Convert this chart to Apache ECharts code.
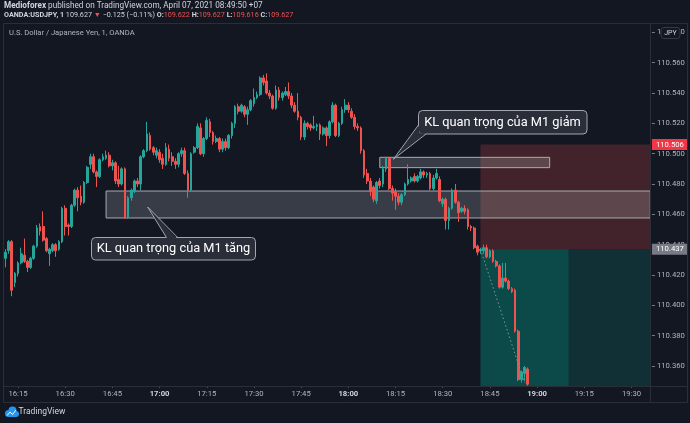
<!DOCTYPE html>
<html><head><meta charset="utf-8">
<script src="https://cdn.jsdelivr.net/npm/echarts@6/dist/echarts.min.js"></script>
<style>html,body{margin:0;padding:0;background:#131722;}#c{width:690px;height:423px;}</style>
</head><body><div id="c"></div>
<script>
// ---- data ----
const startTime = '16:11';
const categoryCount = 206;
const opens = [
110.431,110.436,110.442,110.415,110.421,110.428,110.433,110.429,110.425,110.431,
110.439,110.452,110.452,110.444,110.434,110.436,110.440,110.437,110.442,110.464,
110.453,110.452,110.466,110.476,110.472,110.468,110.481,110.493,110.498,110.488,
110.485,110.496,110.497,110.499,110.492,110.494,110.483,110.480,110.490,110.458,
110.471,110.475,110.482,110.480,110.498,110.502,110.512,110.504,110.499,110.501,
110.497,110.493,110.503,110.498,110.495,110.493,110.500,110.502,110.487,110.476,
110.501,110.504,110.517,110.500,110.510,110.521,110.514,110.508,110.510,110.503,
110.508,110.504,110.512,110.520,110.531,110.528,110.531,110.526,110.529,110.533,
110.537,110.539,110.550,110.548,110.540,110.538,110.530,110.542,110.537,110.539,
110.541,110.538,110.532,110.528,110.524,110.511,110.520,110.519,110.517,110.518,
110.519,110.513,110.517,110.512,110.521,110.532,110.512,110.520,110.529,110.532,
110.528,110.524,110.518,110.517,110.502,110.487,110.482,110.478,110.469,110.482,
110.480,110.490,110.497,110.477,110.475,110.472,110.468,110.473,110.480,110.482,
110.485,110.482,110.484,110.488,110.486,110.487,110.477,110.484,110.483,110.467,
110.470,110.456,110.464,110.476,110.468,110.462,110.464,110.463,110.452,110.451,
110.439,110.436,110.436,110.438,110.432,110.436,110.429,110.426,110.412,110.418,
110.416,110.411,110.410,110.383,110.351,110.355,110.358];
const closes = [
110.435,110.442,110.410,110.421,110.428,110.434,110.429,110.425,110.431,110.439,
110.451,110.449,110.443,110.436,110.437,110.440,110.436,110.442,110.464,110.452,
110.452,110.466,110.476,110.471,110.468,110.481,110.491,110.498,110.488,110.485,
110.496,110.498,110.499,110.492,110.494,110.482,110.480,110.490,110.458,110.471,
110.476,110.482,110.480,110.498,110.502,110.513,110.503,110.501,110.502,110.496,
110.493,110.504,110.497,110.495,110.493,110.500,110.502,110.487,110.476,110.500,
110.504,110.518,110.500,110.510,110.522,110.514,110.508,110.510,110.503,110.508,
110.504,110.512,110.520,110.531,110.528,110.532,110.526,110.529,110.535,110.537,
110.539,110.550,110.547,110.540,110.538,110.530,110.542,110.537,110.540,110.541,
110.538,110.532,110.528,110.524,110.511,110.520,110.518,110.517,110.518,110.519,
110.513,110.517,110.512,110.521,110.532,110.512,110.520,110.529,110.532,110.529,
110.524,110.518,110.517,110.502,110.486,110.482,110.475,110.470,110.481,110.479,
110.490,110.497,110.477,110.474,110.472,110.468,110.473,110.480,110.483,110.484,
110.482,110.485,110.488,110.486,110.487,110.477,110.484,110.487,110.469,110.470,
110.456,110.464,110.476,110.468,110.461,110.464,110.462,110.452,110.451,110.438,
110.435,110.437,110.438,110.432,110.436,110.429,110.426,110.412,110.418,110.416,
110.411,110.409,110.383,110.351,110.356,110.359,110.348];
const lows = [
110.425,110.434,110.406,110.412,110.419,110.427,110.428,110.422,110.424,110.430,
110.438,110.446,110.442,110.435,110.426,110.435,110.432,110.436,110.441,110.446,
110.446,110.451,110.465,110.462,110.466,110.467,110.480,110.490,110.487,110.478,
110.484,110.495,110.496,110.491,110.489,110.480,110.478,110.479,110.457,110.457,
110.469,110.474,110.478,110.476,110.497,110.501,110.502,110.499,110.497,110.494,
110.490,110.492,110.495,110.492,110.490,110.491,110.498,110.486,110.471,110.475,
110.500,110.503,110.499,110.498,110.509,110.511,110.506,110.507,110.501,110.501,
110.502,110.503,110.510,110.517,110.526,110.527,110.524,110.519,110.528,110.531,
110.536,110.538,110.545,110.539,110.536,110.529,110.529,110.535,110.535,110.538,
110.536,110.530,110.527,110.522,110.509,110.509,110.516,110.515,110.516,110.515,
110.509,110.512,110.505,110.510,110.520,110.511,110.511,110.519,110.527,110.527,
110.523,110.516,110.515,110.500,110.484,110.480,110.472,110.468,110.467,110.477,
110.478,110.488,110.476,110.469,110.463,110.466,110.466,110.472,110.479,110.481,
110.481,110.481,110.483,110.484,110.484,110.476,110.476,110.483,110.468,110.465,
110.450,110.450,110.463,110.467,110.455,110.461,110.460,110.450,110.449,110.437,
110.433,110.434,110.434,110.431,110.431,110.428,110.425,110.411,110.411,110.415,
110.410,110.408,110.382,110.350,110.349,110.350,110.347];
const highs = [
110.437,110.443,110.443,110.422,110.429,110.438,110.444,110.430,110.432,110.440,
110.453,110.454,110.462,110.445,110.438,110.441,110.441,110.443,110.465,110.466,
110.454,110.467,110.477,110.478,110.479,110.482,110.492,110.500,110.500,110.489,
110.497,110.500,110.502,110.501,110.496,110.495,110.492,110.491,110.491,110.472,
110.477,110.483,110.484,110.499,110.503,110.521,110.514,110.505,110.504,110.503,
110.500,110.507,110.506,110.501,110.497,110.501,110.504,110.504,110.489,110.501,
110.505,110.520,110.520,110.511,110.524,110.523,110.515,110.512,110.511,110.510,
110.510,110.513,110.521,110.532,110.533,110.533,110.532,110.531,110.536,110.543,
110.541,110.551,110.552,110.553,110.542,110.539,110.545,110.544,110.541,110.544,
110.547,110.540,110.534,110.540,110.525,110.522,110.521,110.520,110.525,110.520,
110.520,110.518,110.518,110.522,110.534,110.533,110.521,110.531,110.536,110.534,
110.530,110.526,110.520,110.518,110.503,110.490,110.484,110.479,110.482,110.484,
110.492,110.498,110.498,110.479,110.477,110.474,110.474,110.481,110.493,110.485,
110.487,110.486,110.490,110.489,110.488,110.488,110.486,110.490,110.485,110.471,
110.471,110.465,110.477,110.480,110.469,110.465,110.466,110.464,110.453,110.452,
110.440,110.438,110.440,110.440,110.437,110.437,110.430,110.427,110.428,110.428,
110.417,110.412,110.411,110.384,110.357,110.360,110.359];

const priceMin = 110.3468, priceMax = 110.5862, priceStep = 0.02;
// annotation anchors (time, price)
const stopPrice = 110.506, entryPrice = 110.437, entryTime = '18:42', filledUntil = '19:10';
const exitTime = '18:56', exitPrice = 110.349;
const zoneBull = {from: '16:43', top: 110.4754, bottom: 110.4576};
const zoneBear = {from: '18:10', to: '19:04', top: 110.4976, bottom: 110.4908};

// ---- categories ----
function toLabel(m){const h=Math.floor(m/60), mm=m%60; return (h<10?'0':'')+h+':'+(mm<10?'0':'')+mm;}
const st = startTime.split(':').map(Number);
const categories = [];
for (let i=0;i<categoryCount;i++) categories.push(toLabel(st[0]*60+st[1]+i));
const lastCat = categories[categories.length-1];
const isQuarter = (i, v) => { const mm = +String(v).split(':')[1]; return mm % 15 === 0; };
const onStep = v => Math.abs(v/priceStep - Math.round(v/priceStep)) < 1e-6;

const candleData = categories.map((c,i)=> i<opens.length ? [opens[i], closes[i], lows[i], highs[i]] : '-');
const empty = categories.map(()=> '-');

const FF = "Roboto, 'Liberation Sans', sans-serif";
const chart = echarts.init(document.getElementById('c'));

const calloutFill = '#2a2e39', calloutStroke = '#a3a6af';
const badgeLabel = (bg, price) => ({show:true, position:'end', distance:0,
  formatter:()=>price.toFixed(3), backgroundColor:bg, color:'#ffffff',
  fontSize:7.7, fontFamily:FF, padding:[2,4,1,4]});

chart.setOption({
  animation:false,
  backgroundColor:'#131722',
  grid:{left:3.85, right:38.1, top:23, bottom:37, containLabel:false},
  xAxis:{
    type:'category', data:categories, boundaryGap:true,
    axisLine:{show:false},
    axisTick:{show:true, alignWithLabel:true, interval:isQuarter, length:2, lineStyle:{color:'#50535e'}},
    axisLabel:{interval:isQuarter, color:'#b2b5be', fontSize:7.7, fontFamily:FF, margin:4,
      formatter:v=> v.endsWith(':00') ? '{h|'+v+'}' : v,
      rich:{h:{fontWeight:'bold', color:'#d1d4dc', fontSize:7.7, fontFamily:FF}}},
    splitLine:{show:false}
  },
  yAxis:{
    type:'value', position:'right', min:priceMin, max:priceMax, scale:true,
    splitNumber:12, minInterval:priceStep, maxInterval:priceStep,
    axisLine:{show:false},
    axisTick:{show:true, length:3, lineStyle:{color:'#787b86'}},
    splitLine:{show:false},
    axisLabel:{color:'#b2b5be', fontSize:7.7, fontFamily:FF, margin:5, showMinLabel:false, showMaxLabel:false,
      formatter:v=> onStep(v) ? v.toFixed(3) : ''}
  },
  series:[
    {type:'candlestick', name:'USDJPY', data:candleData, z:2, barWidth:2.2, silent:true,
      itemStyle:{color:'#26a69a', color0:'#ef5350', borderColor:'#26a69a', borderColor0:'#ef5350', borderWidth:1}},
    {type:'line', name:'position', data:empty, z:3, silent:true, clip:false, showSymbol:false,
      markArea:{silent:true, label:{show:false}, data:[
        [{xAxis:entryTime, yAxis:stopPrice, itemStyle:{color:'rgba(210,70,70,0.25)'}},{xAxis:lastCat, yAxis:entryPrice}],
        [{xAxis:entryTime, yAxis:entryPrice, itemStyle:{color:'rgba(8,150,130,0.2)'}},{xAxis:lastCat, yAxis:priceMin}],
        [{xAxis:entryTime, yAxis:entryPrice, itemStyle:{color:'rgba(0,150,130,0.26)'}},{xAxis:filledUntil, yAxis:priceMin}]
      ]}},
    {type:'line', name:'zones', data:empty, z:4, silent:true, clip:false, showSymbol:false,
      markArea:{silent:true, label:{show:false},
        itemStyle:{color:'rgba(205,208,216,0.2)', borderColor:'#a8abb3', borderWidth:1},
        data:[
          [{xAxis:zoneBull.from, yAxis:zoneBull.top},{xAxis:lastCat, yAxis:zoneBull.bottom}],
          [{xAxis:zoneBear.from, yAxis:zoneBear.top},{xAxis:zoneBear.to, yAxis:zoneBear.bottom}]
        ]}},
    {type:'line', name:'path', data:empty, z:5, silent:true, clip:false, showSymbol:false,
      markLine:{silent:true, symbol:['none','none'], animation:false, precision:3, data:[
        [{coord:[entryTime, entryPrice], lineStyle:{type:[1.5,2.5], color:'#7d9894', width:1}, label:{show:false}},
         {coord:[exitTime, exitPrice]}]
      ]}},
    {type:'line', name:'badges', data:empty, z:20, silent:true, clip:false, showSymbol:false,
      markLine:{silent:true, symbol:['none','none'], animation:false, precision:4,
        lineStyle:{color:'rgba(0,0,0,0)', width:0.01, type:'solid'},
        data:[
          {yAxis:stopPrice, label:badgeLabel('#f23645', stopPrice)},
          {yAxis:entryPrice, label:badgeLabel('#787b86', entryPrice)}
        ]}}
  ],
  graphic:[
    {type:'text', z:100, left:4, top:1.5, silent:true, style:{
      text:'{b|Medioforex}{n| published on TradingView.com, April 07, 2021 08:49:50 +07}',
      rich:{b:{fill:'#d1d4dc', fontWeight:'bold', fontSize:8.2, fontFamily:FF}, n:{fill:'#d1d4dc', fontSize:8.2, fontFamily:FF}}}},
    {type:'text', z:100, left:4, top:11.5, silent:true, style:{
      text:'{b|OANDA:USDJPY, 1}{n| 109.627 }{r|▼}{n| −0.125 (−0.11%) }{b|O:}{r|109.622}{b| H:}{r|109.627}{b| L:}{r|109.616}{b| C:}{r|109.627}',
      rich:{b:{fill:'#d1d4dc', fontWeight:'bold', fontSize:7.2, fontFamily:FF}, n:{fill:'#d1d4dc', fontSize:7.2, fontFamily:FF}, r:{fill:'#ef5350', fontSize:7.2, fontFamily:FF}}}},
    {type:'text', z:100, left:9, top:29, silent:true, style:{text:'U.S. Dollar / Japanese Yen, 1, OANDA', fill:'#b2b5be', fontSize:7.6, fontFamily:FF}},
    // pane frame
    {type:'rect', z:100, silent:true, shape:{x:3.5,y:23.5,width:684,height:379}, style:{fill:null, stroke:'#2a2e39', lineWidth:1}},
    {type:'line', z:100, silent:true, shape:{x1:650.5,y1:23.5,x2:650.5,y2:402.5}, style:{stroke:'#2a2e39', lineWidth:1}},
    {type:'line', z:100, silent:true, shape:{x1:3.5,y1:386.5,x2:687.5,y2:386.5}, style:{stroke:'#2a2e39', lineWidth:1}},
    // currency badge
    {type:'rect', z:101, silent:true, shape:{x:661,y:27.5,width:19,height:11,r:3}, style:{fill:'#131722', stroke:'#363a45', lineWidth:1}},
    {type:'text', z:102, silent:true, x:670.5, y:33, style:{text:'JPY', fill:'#d1d4dc', fontSize:7, fontFamily:FF, align:'center', verticalAlign:'middle'}},
    // callout 1
    {type:'rect', z:110, silent:true, shape:{x:91.5,y:237.5,width:164,height:22.5,r:4}, style:{fill:calloutFill, stroke:calloutStroke, lineWidth:1}},
    {type:'polygon', z:111, silent:true, shape:{points:[[167,239],[147.7,207],[177.5,239]]}, style:{fill:calloutFill}},
    {type:'polyline', z:112, silent:true, shape:{points:[[166.5,237.5],[147.7,207],[177.7,237.5]]}, style:{stroke:calloutStroke, lineWidth:1, fill:null}},
    {type:'text', z:113, silent:true, x:173.5, y:249, style:{text:'KL quan trọng của M1 tăng', fill:'#ffffff', fontSize:12.8, fontFamily:FF, align:'center', verticalAlign:'middle'}},
    // callout 2
    {type:'rect', z:110, silent:true, shape:{x:418.5,y:110.5,width:168.5,height:23.5,r:4}, style:{fill:calloutFill, stroke:calloutStroke, lineWidth:1}},
    {type:'polygon', z:111, silent:true, shape:{points:[[419.5,125],[393.3,159.3],[426,133.3],[419.5,133.3]]}, style:{fill:calloutFill}},
    {type:'polyline', z:112, silent:true, shape:{points:[[418.5,125],[393.3,159.3],[426,134]]}, style:{stroke:calloutStroke, lineWidth:1, fill:null}},
    {type:'text', z:113, silent:true, x:502.5, y:122.5, style:{text:'KL quan trọng của M1 giảm', fill:'#ffffff', fontSize:12.8, fontFamily:FF, align:'center', verticalAlign:'middle'}},
    // footer logo
    {type:'circle', z:100, silent:true, shape:{cx:8.5,cy:413.5,r:3.5}, style:{fill:'#2196f3'}},
    {type:'circle', z:100, silent:true, shape:{cx:12.5,cy:410.5,r:4}, style:{fill:'#2196f3'}},
    {type:'circle', z:100, silent:true, shape:{cx:16,cy:414,r:3}, style:{fill:'#2196f3'}},
    {type:'rect', z:100, silent:true, shape:{x:8.5,y:413,width:7.5,height:4}, style:{fill:'#2196f3'}},
    {type:'polyline', z:101, silent:true, shape:{points:[[7,415.5],[10,412],[12.5,414.5],[16,410]]}, style:{stroke:'#ffffff', lineWidth:1, fill:null}},
    {type:'text', z:100, silent:true, left:18.5, top:407, style:{text:'TradingView', fill:'#d1d4dc', fontSize:8.5, fontFamily:FF}}
  ]
});
</script></body></html>
